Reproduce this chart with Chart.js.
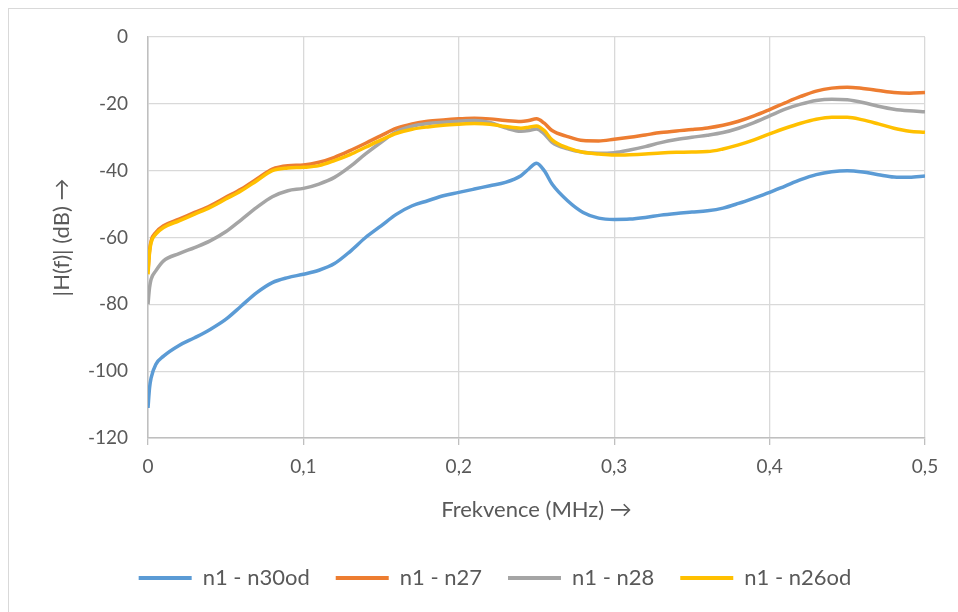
<!DOCTYPE html>
<html>
<head>
<meta charset="utf-8">
<script src="https://cdn.jsdelivr.net/npm/chart.js@4"></script>
<style>
  html, body { margin: 0; padding: 0; background: #fff; overflow: hidden; }
  #frame { position: absolute; left: 8px; top: 8px; width: 1000px; height: 700px; border: 1.5px solid #d9d9d9; }
  #grafica { position: absolute; left: 0; top: 0; }
</style>
</head>
<body>
<div id="frame"></div>
<canvas id="grafica" width="958" height="612"></canvas>
<script>
const freq = [0, 0.001, 0.002, 0.005, 0.01, 0.02, 0.03, 0.04, 0.05, 0.06, 0.07, 0.08, 0.09, 0.1,
  0.11, 0.12, 0.13, 0.14, 0.15, 0.16, 0.17, 0.18, 0.19, 0.2, 0.21, 0.22, 0.23, 0.24, 0.245, 0.25, 0.255,
  0.26, 0.27, 0.28, 0.29, 0.3, 0.31, 0.32, 0.33, 0.34, 0.35, 0.36, 0.37, 0.38, 0.39, 0.4,
  0.41, 0.42, 0.43, 0.44, 0.45, 0.46, 0.47, 0.48, 0.49, 0.5]

const n30od = [-111, -105, -102, -98, -95.5, -92.3, -90, -87.5, -84.5, -80.5, -76.5, -73.5, -72, -71,
  -69.8, -67.8, -64.2, -60, -56.5, -53, -50.5, -49, -47.5, -46.5, -45.5, -44.5, -43.5, -41.5, -39.5, -37.8, -40,
  -44, -49, -52.5, -54.2, -54.6, -54.5, -54, -53.3, -52.8, -52.4, -52, -51.2, -49.8, -48.2, -46.5,
  -44.6, -42.7, -41.2, -40.3, -40, -40.4, -41.2, -41.9, -42, -41.6]

const n27 = [-70, -64, -61, -58.5, -56.5, -54.5, -52.5, -50.5, -48, -45.5, -42.5, -39.5, -38.5, -38.3,
  -37.5, -36, -34, -31.8, -29.5, -27.3, -26, -25.2, -24.8, -24.5, -24.3, -24.5, -25, -25.3, -25, -24.5, -25.8,
  -28, -29.8, -31, -31.1, -30.6, -30, -29.3, -28.6, -28.1, -27.7, -27.2, -26.4, -25.2, -23.6, -21.7,
  -19.7, -17.8, -16.2, -15.3, -15, -15.4, -16, -16.6, -16.8, -16.6]

const n28 = [-80, -75, -72.5, -70, -67, -64.8, -63, -61, -58.3, -54.7, -51, -47.8, -46, -45.3,
  -44, -42, -38.8, -35, -31.5, -28.3, -26.7, -25.9, -25.5, -25.2, -25, -25.6, -27.2, -28.2, -28, -27.5, -29,
  -31.5, -33.5, -34.5, -34.8, -34.6, -33.8, -32.8, -31.6, -30.7, -30, -29.4, -28.6, -27.3, -25.6, -23.6,
  -21.6, -20.1, -19, -18.6, -18.8, -19.6, -20.7, -21.6, -22.1, -22.4]

const n26od = [-71, -64.5, -61.5, -59, -57, -55, -53, -51, -48.5, -46, -43, -40, -39.2, -39,
  -38.5, -37, -35.2, -33, -30.8, -28.8, -27.6, -26.9, -26.4, -26.1, -25.9, -26.1, -26.8, -27.3, -27, -26.6, -28,
  -30.8, -33.2, -34.5, -35, -35.3, -35.2, -35, -34.7, -34.5, -34.4, -34.3, -33.5, -32.3, -30.8, -29,
  -27.3, -25.8, -24.6, -24, -24, -24.8, -26, -27.3, -28.2, -28.5]

const textColor = '#595959'
const gridColor = '#d9d9d9'
const axisColor = '#bfbfbf'

function serie(label, values, color, order) {
    return {
        label: label,
        data: values.map((v, i) => ({x: freq[i], y: v})),
        borderColor: color,
        backgroundColor: color,
        borderWidth: 3.5,
        pointRadius: 0,
        cubicInterpolationMode: 'monotone',
        order: order
    }
}

const data = {
    datasets: [
        serie('n1 - n30od', n30od, '#5b9bd5', 4),
        serie('n1 - n27', n27, '#ed7d31', 3),
        serie('n1 - n28', n28, '#a5a5a5', 2),
        serie('n1 - n26od', n26od, '#ffc000', 1)
    ]
}

const graph = document.querySelector('#grafica')

new Chart(graph, {
    type: 'line',
    data: data,
    options: {
        responsive: false,
        animation: false,
        layout: {padding: {left: 65, right: 33, top: 37, bottom: 13}},
        plugins: {
            tooltip: {enabled: false},
            legend: {
                position: 'bottom',
                labels: {
                    color: textColor,
                    font: {family: 'Lato', size: 22},
                    boxWidth: 53,
                    boxHeight: 4,
                    padding: 26,
                    sort: (a, b) => a.datasetIndex - b.datasetIndex,
                    generateLabels: (chart) => Chart.defaults.plugins.legend.labels.generateLabels(chart)
                        .map(l => Object.assign(l, {lineWidth: 0, fillStyle: l.strokeStyle}))
                }
            }
        },
        scales: {
            x: {
                type: 'linear',
                min: 0,
                max: 0.5,
                ticks: {
                    stepSize: 0.1,
                    color: textColor,
                    font: {family: 'Lato', size: 19},
                    padding: 10,
                    maxRotation: 0,
                    callback: (v) => v === 0 ? '0' : v.toFixed(1).replace('.', ',')
                },
                grid: {color: gridColor, lineWidth: 1.3, tickLength: 7, tickColor: axisColor},
                border: {color: axisColor, width: 1.5},
                title: {
                    display: true,
                    text: 'Frekvence (MHz) →',
                    color: textColor,
                    font: {family: 'Lato', size: 22},
                    padding: {top: 0, bottom: 18}
                },
                afterFit: (s) => { s.height = 103 }
            },
            y: {
                min: -120,
                max: 0,
                ticks: {
                    stepSize: 20,
                    color: textColor,
                    font: {family: 'Lato', size: 19},
                    padding: 20
                },
                grid: {color: gridColor, lineWidth: 1.3, drawTicks: false},
                border: {color: axisColor, width: 1.5},
                title: {
                    display: true,
                    text: '|H(f)| (dB) →',
                    color: textColor,
                    font: {family: 'Lato', size: 22},
                    padding: {top: -16, bottom: 0}
                },
                afterFit: (s) => { s.width = 83 }
            }
        }
    }
})
</script>
</body>
</html>
